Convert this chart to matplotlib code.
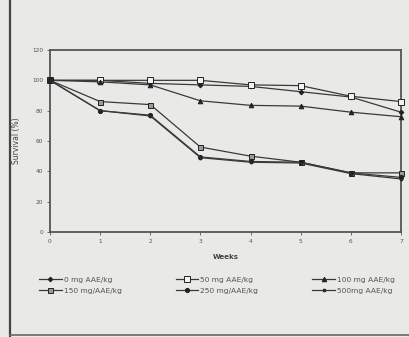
import matplotlib
matplotlib.use("Agg")
import matplotlib.pyplot as plt
from matplotlib.lines import Line2D

# weeks on the x axis and survival (%)
weeks = [0, 1, 2, 3, 4, 5, 6, 7]
dose_labels = ["0 mg AAE/kg", "50 mg AAE/kg", "100 mg AAE/kg",
               "150 mg/AAE/kg", "250 mg/AAE/kg", "500mg AAE/kg"]
surv_0 = [100, 100, 98, 97, 96, 92.5, 89, 79]
surv_50 = [100, 100, 100, 100, 97, 96.5, 89.5, 86]
surv_100 = [100, 99, 97, 86.5, 83.5, 83, 79, 76]
surv_150 = [100, 86, 84, 56, 50, 46, 39, 39]
surv_250 = [100, 80, 77, 49.5, 46.5, 46, 39, 36]
surv_500 = [100, 80, 76.5, 49, 46, 45.5, 38.5, 35]
x_ticks = [0, 1, 2, 3, 4, 5, 6, 7]
y_ticks = [0, 20, 40, 60, 80, 100, 120]

series = [surv_0, surv_50, surv_100, surv_150, surv_250, surv_500]
styles = [
    dict(marker="D", markersize=2.4, markerfacecolor="#222222"),
    dict(marker="s", markersize=3.8, markerfacecolor="#f2f2f2"),
    dict(marker="^", markersize=3.3, markerfacecolor="#222222"),
    dict(marker="s", markersize=3.6, markerfacecolor="#9a9a9a"),
    dict(marker="o", markersize=3.0, markerfacecolor="#222222"),
    dict(marker="o", markersize=2.0, markerfacecolor="#333333"),
]

bg = "#e9e9e7"
ink = "#3a3a3a"

fig = plt.figure(figsize=(4.09, 3.37), dpi=100, facecolor=bg)
ax = fig.add_axes([50 / 409, 1 - 232 / 337, 351 / 409, 182 / 337])
ax.set_facecolor(bg)

handles = []
for vals, lab, st in zip(series, dose_labels, styles):
    h, = ax.plot(weeks, vals, color=ink, linewidth=0.9,
                 markeredgecolor="#222222", markeredgewidth=0.7,
                 clip_on=False, zorder=3, label=lab, **st)
    handles.append(h)

ax.set_xlim(0, 7)
ax.set_ylim(0, 120)
ax.set_xticks(x_ticks)
ax.set_yticks(y_ticks)
ax.tick_params(axis="both", labelsize=4.2, colors="#555555", length=2,
               width=0.6, pad=3)
for sp in ax.spines.values():
    sp.set_color("#555555")
    sp.set_linewidth(1.3)

ax.set_xlabel("Weeks", fontsize=5, fontweight="bold", color="#444444", labelpad=7)
ax.set_ylabel("Survival (%)", fontsize=5.5, color="#444444", labelpad=8)

# legend: row 1 = 0/50/100, row 2 = 150/250/500 (column-major fill)
order = [0, 3, 1, 4, 2, 5]
fig.legend([handles[i] for i in order], [dose_labels[i] for i in order],
           ncol=3, loc="upper left", bbox_to_anchor=(36 / 409, 1 - 277 / 337, 362 / 409, 0.01),
           mode="expand", frameon=False, fontsize=5.4, handlelength=3.0,
           handletextpad=0.3, labelspacing=0.6, borderaxespad=0,
           labelcolor="#555555")

# scanned page border
fig.add_artist(Line2D([10 / 409, 10 / 409], [0, 1], color="#444444", linewidth=1.6))
fig.add_artist(Line2D([10 / 409, 1], [2 / 337, 2 / 337], color="#666666", linewidth=1.2))

fig.savefig("out.png", dpi=100, facecolor=bg)
